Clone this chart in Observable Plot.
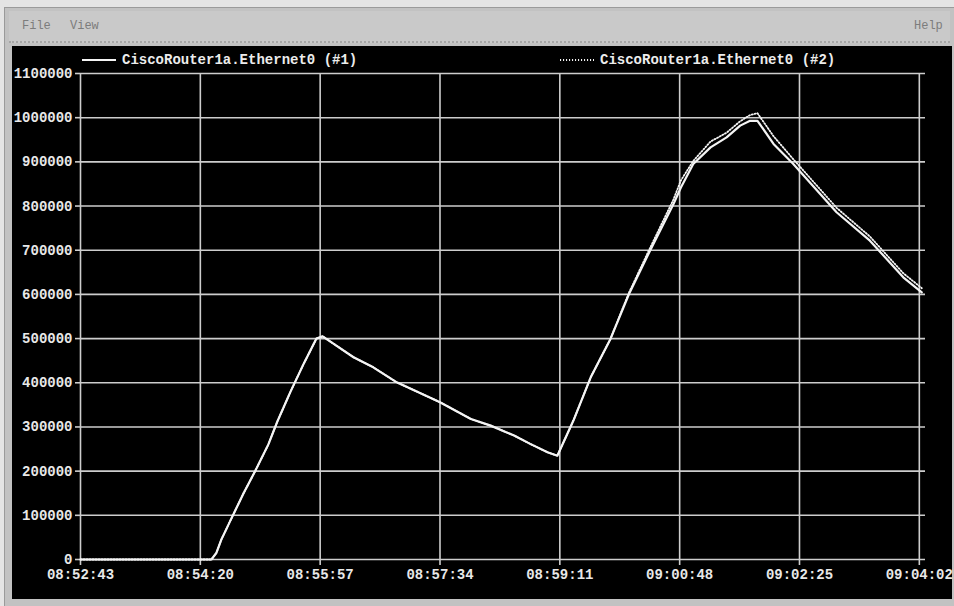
<!DOCTYPE html>
<html><head><meta charset="utf-8">
<script src="https://cdn.jsdelivr.net/npm/d3@7"></script>
<script src="https://cdn.jsdelivr.net/npm/@observablehq/plot@0.6"></script>
<style>
html,body{margin:0;padding:0;}
body{width:954px;height:606px;background:#e4e4e4;position:relative;overflow:hidden;font-family:"Liberation Mono","DejaVu Sans Mono",monospace;}
#win{position:absolute;left:4px;top:7px;width:950px;height:599px;background:#c2c2c2;border-top:1px solid #9a9a9a;border-left:1px solid #9a9a9a;}
#menu{position:absolute;left:9px;top:11px;width:941px;height:30px;background:#c9c9c9;border-bottom:2px dotted #a6a6a6;color:#7c7c7c;font-size:12px;}
#menu span{position:absolute;top:8px;}
#panel{position:absolute;left:12px;top:46px;width:940px;height:553px;background:#000;}
#legend{position:absolute;left:0;top:0;width:934px;height:28px;color:#ececec;font-size:14px;font-weight:bold;}
#legend .item{position:absolute;top:6px;display:flex;align-items:center;white-space:nowrap;}
#legend svg{margin-right:6px;}
#chart{position:absolute;left:0;top:0;}
#chart svg{overflow:visible;}
</style>
</head><body>
<div id="win"></div>
<div id="menu"><span style="left:13px">File</span><span style="left:905px">Help</span><span style="left:61px">View</span></div>
<div id="panel">
  <div id="chart"></div>
  <div id="legend"></div>
</div>
<script>
// ---- data ----
const seriesNames = ["CiscoRouter1a.Ethernet0 (#1)", "CiscoRouter1a.Ethernet0 (#2)"];
const times = ["08:52:43","08:53:33","08:54:20","08:54:29","08:54:33","08:54:37","08:54:45","08:54:55","08:55:04","08:55:15","08:55:22","08:55:33","08:55:44","08:55:54","08:55:59","08:56:08","08:56:24","08:56:40","08:56:59","08:57:34","08:57:59","08:58:15","08:58:34","08:58:47","08:59:01","08:59:09","08:59:22","08:59:36","08:59:52","09:00:07","09:00:24","09:00:43","09:00:49","09:00:59","09:01:13","09:01:26","09:01:37","09:01:45","09:01:51","09:02:04","09:02:20","09:02:55","09:03:22","09:03:49","09:04:04"];
const series1 = [0,0,0,0,15000,45000,92000,150000,198000,260000,310000,380000,445000,500000,505000,488000,457700,435000,401000,356000,318000,303000,280500,261700,242800,235000,314500,412400,499300,601000,699000,804700,842000,895000,932800,955400,982000,993000,993000,940500,895000,786000,721700,638700,604700];
const series2 = [0,0,0,0,15000,45000,92000,150000,198000,260000,310000,380000,445000,500000,505000,488000,457700,435000,401000,356000,318000,303000,280500,261700,242800,235000,314500,412400,499300,604000,705000,815000,858000,902000,946000,966000,992000,1006000,1010000,958000,906000,796000,731000,648000,614000];
const xTickLabels = ["08:52:43","08:54:20","08:55:57","08:57:34","08:59:11","09:00:48","09:02:25","09:04:02"];
const yTicks = [0,100000,200000,300000,400000,500000,600000,700000,800000,900000,1000000,1100000];
const xDomain = ["08:52:43","09:04:07"];

// ---- build ----
const parse = d3.utcParse("%H:%M:%S");
const d1 = times.map((t,i)=>({time:parse(t), value:series1[i]}));
const d2 = times.map((t,i)=>({time:parse(t), value:series2[i]}));
const xTicks = xTickLabels.map(parse);
const gridColor = "#cdcdcd";
const dash = "1.1,1.9";

const chart = Plot.plot({
  width: 934, height: 553,
  marginLeft: 68, marginRight: 21, marginTop: 27, marginBottom: 40,
  style: {background:"#000", color:"#e8e8e8", fontFamily:"'Liberation Mono','DejaVu Sans Mono',monospace", fontSize:"14px", fontWeight:"bold", overflow:"visible"},
  x: {type:"utc", domain: xDomain.map(parse)},
  y: {domain:[0,1100000]},
  marks: [
    Plot.gridY(yTicks, {stroke:gridColor, strokeOpacity:1, strokeWidth:1.6}),
    Plot.gridX(xTicks, {stroke:gridColor, strokeOpacity:1, strokeWidth:1.6}),
    Plot.axisY(yTicks, {tickSize:5, tickPadding:3, tickFormat:d=>String(d), label:null, stroke:gridColor, strokeWidth:1.6}),
    Plot.axisX(xTicks, {tickSize:6, tickPadding:4, tickFormat:d3.utcFormat("%H:%M:%S"), label:null, stroke:gridColor, strokeWidth:1.6}),
    Plot.line(d2, {x:"time", y:"value", stroke:"#f4f4f4", strokeWidth:1.8, strokeDasharray:dash}),
    Plot.line(d1, {x:"time", y:"value", stroke:"#f4f4f4", strokeWidth:2.2})
  ]
});
document.getElementById("chart").appendChild(chart);

// ---- legend ----
const legend = document.getElementById("legend");
const lefts = [70, 548];
seriesNames.forEach((name,i)=>{
  const it = document.createElement("div");
  it.className = "item";
  it.style.left = lefts[i] + "px";
  it.innerHTML = `<svg width="34" height="6"><line x1="0" x2="34" y1="3" y2="3" stroke="#f4f4f4" stroke-width="${i===1?1.8:2.2}" ${i===1?`stroke-dasharray="${dash}"`:''}/></svg>`;
  const s = document.createElement("span");
  s.textContent = name;
  it.appendChild(s);
  legend.appendChild(it);
});
</script>
</body></html>
